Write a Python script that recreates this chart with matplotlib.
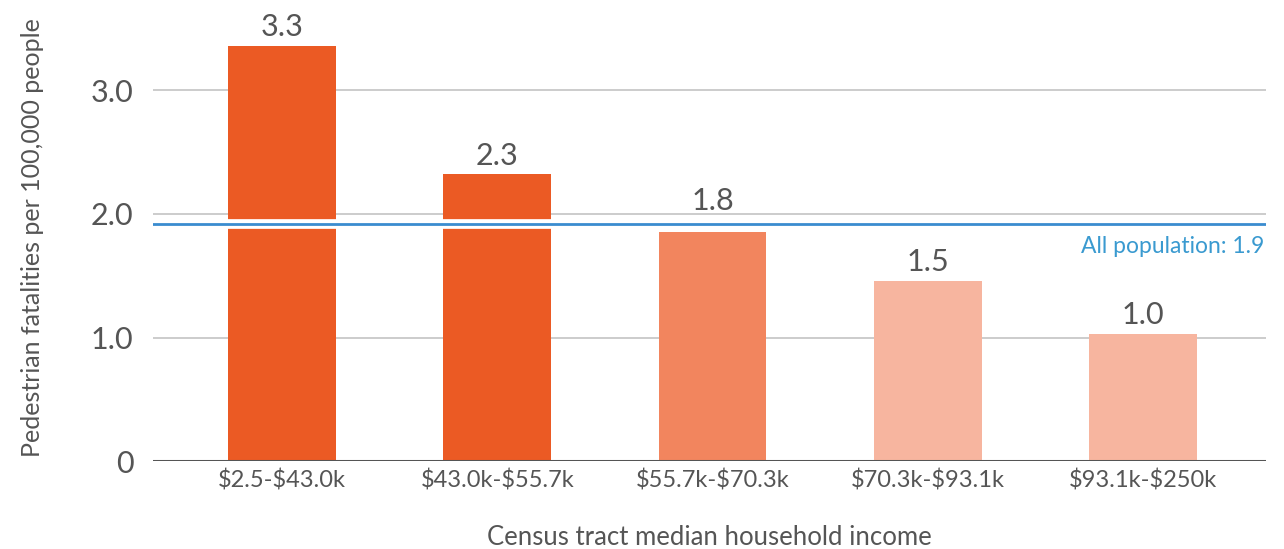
import matplotlib.pyplot as plt

plt.rcParams["font.family"] = ["Lato", "DejaVu Sans"]

categories = [r"\$2.5-\$43.0k", r"\$43.0k-\$55.7k", r"\$55.7k-\$70.3k", r"\$70.3k-\$93.1k", r"\$93.1k-\$250k"]
rates = [3.36, 2.32, 1.85, 1.46, 1.03]
rate_labels = ["3.3", "2.3", "1.8", "1.5", "1.0"]
bar_colors = ["#EB5A24", "#EB5A24", "#F2855E", "#F7B59F", "#F7B59F"]
all_population = 1.92
y_ticks = [0, 1, 2, 3]
y_tick_labels = ["0", "1.0", "2.0", "3.0"]

fig = plt.figure(figsize=(12.84, 5.49), dpi=100)
ax = fig.add_axes([0.119, 0.160, 0.867, 0.840])

x = list(range(len(categories)))
ax.bar(x, rates, width=0.5, color=bar_colors, zorder=2)

for yv in y_ticks[1:]:
    ax.axhline(yv, color="#CCCCCC", linewidth=1.4, zorder=1)

# reference line with a white halo cutting through the bars
ax.axhline(all_population, color="white", linewidth=7, zorder=3)
ax.axhline(all_population, color="#3A8CCF", linewidth=2, zorder=4)
ax.text(4.56, all_population - 0.1, "All population: 1.9", color="#3A9AD0",
        fontsize=16.5, ha="right", va="top", zorder=5)

for xi, v, lab in zip(x, rates, rate_labels):
    y_pos, off = v, 7
    if 0 < all_population - v < 0.15:
        y_pos, off = all_population, 10
    ax.annotate(lab, (xi, y_pos), xytext=(0, off), textcoords="offset points",
                ha="center", va="baseline", fontsize=22, color="#555555", zorder=5)

ax.axhline(0, color="#555555", linewidth=2.2, zorder=5)

ax.set_xlim(-0.6, 4.57)
ax.set_ylim(0, 3.73)
ax.set_xticks(x)
ax.set_xticklabels(categories, fontsize=17, color="#555555")
ax.set_yticks(y_ticks)
ax.set_yticklabels(y_tick_labels, fontsize=22, color="#555555")
ax.tick_params(axis="x", length=0, pad=6)
ax.tick_params(axis="y", length=0, pad=14)
for spine in ax.spines.values():
    spine.set_visible(False)

ax.set_ylabel("Pedestrian fatalities per 100,000 people", fontsize=18, color="#555555", labelpad=28)
ax.yaxis.set_label_coords(-0.098, 0.485)
ax.set_xlabel("Census tract median household income", fontsize=18.5, color="#555555", labelpad=24)

plt.savefig("out.png", dpi=100)
